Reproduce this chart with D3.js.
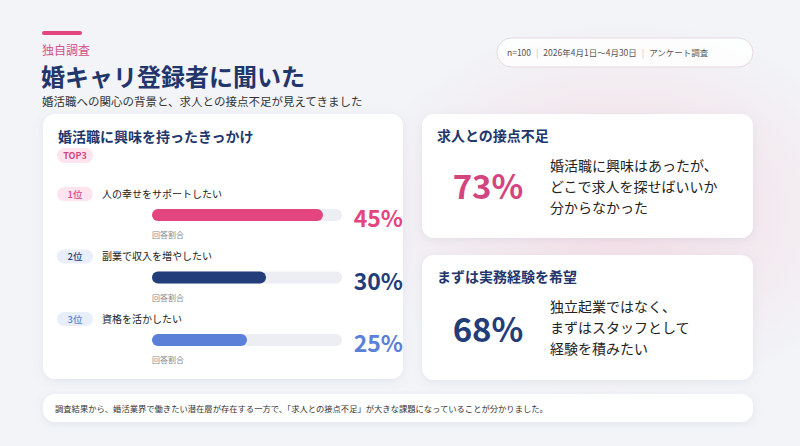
<!DOCTYPE html>
<meta charset="utf-8">
<style>
body { margin: 0; background: #f2f4f7; }
svg text { font-family: "Noto Sans CJK JP", "Noto Sans", sans-serif; }
</style>
<div id="chart"></div>
<script src="https://cdn.jsdelivr.net/npm/d3@7/dist/d3.min.js"></script>
<script>
// survey data
var ranks = ["1位", "2位", "3位"],
    reasons = ["人の幸せをサポートしたい", "副業で収入を増やしたい", "資格を活かしたい"],
    shares = [45, 30, 25],
    barColors = ["#e3457f", "#233d7b", "#5b80d8"],
    pillFills = ["#fde4ee", "#e9effa", "#e9effa"];

var highlightTitles = ["求人との接点不足", "まずは実務経験を希望"],
    highlightValues = [73, 68],
    highlightColors = ["#d4457f", "#243c78"],
    highlightLines = [
      ["婚活職に興味はあったが、", "どこで求人を探せばいいか", "分からなかった"],
      ["独立起業ではなく、", "まずはスタッフとして", "経験を積みたい"]
    ];

var w = 800, h = 446,
    navy = "#22366c";

var svg = d3.select("#chart").append("svg")
  .attr("width", w)
  .attr("height", h);

var defs = svg.append("defs");
var glow = defs.append("radialGradient").attr("id", "glow")
  .attr("cx", 0.5).attr("cy", 0.5).attr("r", 0.5);
glow.append("stop").attr("offset", "0%").attr("stop-color", "#f4d9e3").attr("stop-opacity", 0.9);
glow.append("stop").attr("offset", "100%").attr("stop-color", "#f4d9e3").attr("stop-opacity", 0);

var shadow = defs.append("filter").attr("id", "shadow")
  .attr("x", -0.1).attr("y", -0.1).attr("width", 1.2).attr("height", 1.3);
shadow.append("feDropShadow")
  .attr("dx", 0).attr("dy", 2).attr("stdDeviation", 4)
  .attr("flood-color", "#8090a8").attr("flood-opacity", 0.14);

// background
svg.append("rect").attr("width", w).attr("height", h).attr("fill", "#f2f4f7");
svg.append("ellipse").attr("cx", 620).attr("cy", 210).attr("rx", 260).attr("ry", 190)
  .attr("fill", "url(#glow)");

// header
svg.append("rect").attr("x", 42).attr("y", 31).attr("width", 40).attr("height", 4)
  .attr("rx", 2).attr("fill", "#e3457f");
svg.append("text").attr("x", 42).attr("y", 55).text("独自調査")
  .attr("font-size", 12).attr("fill", "#d4518a");
svg.append("text").attr("x", 41).attr("y", 86).text("婚キャリ登録者に聞いた")
  .attr("font-size", 24).attr("font-weight", 700).attr("fill", navy);
svg.append("text").attr("x", 42).attr("y", 106).text("婚活職への関心の背景と、求人との接点不足が見えてきました")
  .attr("font-size", 11.5).attr("fill", "#333");

// info pill
svg.append("rect").attr("x", 497).attr("y", 38).attr("width", 256).attr("height", 29)
  .attr("rx", 14.5).attr("fill", "#fff").attr("fill-opacity", 0.85)
  .attr("stroke", "#e6d8de");
svg.append("text").attr("x", 507).attr("y", 56).attr("font-size", 8.5).attr("fill", "#555")
  .selectAll("tspan")
  .data(["n=100", "|", "2026年4月1日〜4月30日", "|", "アンケート調査"])
  .join("tspan")
  .attr("dx", function (d, i) { return i ? 5 : 0; })
  .attr("fill", function (d) { return d == "|" ? "#bbb" : "#555"; })
  .text(function (d) { return d; });

// cards
function card(x, y, cw, ch) {
  return svg.append("rect").attr("x", x).attr("y", y).attr("width", cw).attr("height", ch)
    .attr("rx", 12).attr("fill", "#fff").attr("filter", "url(#shadow)");
}
card(43, 114, 360, 265);
card(422, 114, 331, 124);
card(422, 255, 331, 125);
card(43, 394, 710, 28);

// left card: top 3 reasons
svg.append("text").attr("x", 58).attr("y", 142).text("婚活職に興味を持ったきっかけ")
  .attr("font-size", 14).attr("font-weight", 700).attr("fill", navy);
svg.append("rect").attr("x", 57).attr("y", 148).attr("width", 36).attr("height", 15)
  .attr("rx", 7.5).attr("fill", "#fde4ee");
svg.append("text").attr("x", 75).attr("y", 159).attr("text-anchor", "middle").text("TOP3")
  .attr("font-size", 9).attr("font-weight", 700).attr("fill", "#d4457f");

var x = d3.scaleLinear().domain([0, 50]).range([152, 342]);
var y = d3.scalePoint().domain(ranks).range([209, 334]);
var barH = 12;

var rows = svg.selectAll(".row")
  .data(ranks)
  .join("g")
  .attr("class", "row")
  .attr("transform", function (d) { return "translate(0," + y(d) + ")"; });

rows.append("rect").attr("x", 57).attr("y", -22).attr("width", 36).attr("height", 14)
  .attr("rx", 7).attr("fill", function (d, i) { return pillFills[i]; });
rows.append("text").attr("x", 75).attr("y", -11.5).attr("text-anchor", "middle")
  .attr("font-size", 9.5).attr("font-weight", 500)
  .attr("fill", function (d, i) { return i ? barColors[i] : "#d4457f"; })
  .text(function (d) { return d; });
rows.append("text").attr("x", 102).attr("y", -11.5)
  .attr("font-size", 10).attr("fill", "#222")
  .text(function (d, i) { return reasons[i]; });

rows.append("rect").attr("x", x(0)).attr("y", 0)
  .attr("width", x(50) - x(0)).attr("height", barH)
  .attr("rx", barH / 2).attr("fill", "#eceef3");
rows.append("rect").attr("x", x(0)).attr("y", 0)
  .attr("width", function (d, i) { return x(shares[i]) - x(0); })
  .attr("height", barH).attr("rx", barH / 2)
  .attr("fill", function (d, i) { return barColors[i]; });
rows.append("text").attr("x", 403).attr("y", 18).attr("text-anchor", "end")
  .attr("font-size", 23).attr("font-weight", 700)
  .attr("fill", function (d, i) { return barColors[i]; })
  .text(function (d, i) { return shares[i] + "%"; });
rows.append("text").attr("x", x(0)).attr("y", 29)
  .attr("font-size", 8).attr("fill", "#888").text("回答割合");

// right cards: highlights
var hy = [114, 255];
var hl = svg.selectAll(".hl")
  .data(highlightTitles)
  .join("g")
  .attr("class", "hl")
  .attr("transform", function (d, i) { return "translate(422," + hy[i] + ")"; });

hl.append("text").attr("x", 15).attr("y", 27).attr("font-size", 14).attr("font-weight", 700)
  .attr("fill", navy).text(function (d) { return d; });
hl.append("text").attr("x", 66).attr("y", function (d, i) { return i ? 87 : 85; })
  .attr("text-anchor", "middle")
  .attr("font-size", 33).attr("font-weight", 700)
  .attr("fill", function (d, i) { return highlightColors[i]; })
  .text(function (d, i) { return highlightValues[i] + "%"; });
hl.append("text").attr("font-size", 14).attr("fill", "#222")
  .selectAll("tspan")
  .data(function (d, i) { return highlightLines[i]; })
  .join("tspan")
  .attr("x", 128)
  .attr("y", function (d, j) { return 57 + j * 21; })
  .text(function (d) { return d; });

// footer note
svg.append("text").attr("x", 55).attr("y", 411.5).attr("font-size", 8.3).attr("fill", "#333")
  .text("調査結果から、婚活業界で働きたい潜在層が存在する一方で、「求人との接点不足」が大きな課題になっていることが分かりました。");
</script>
